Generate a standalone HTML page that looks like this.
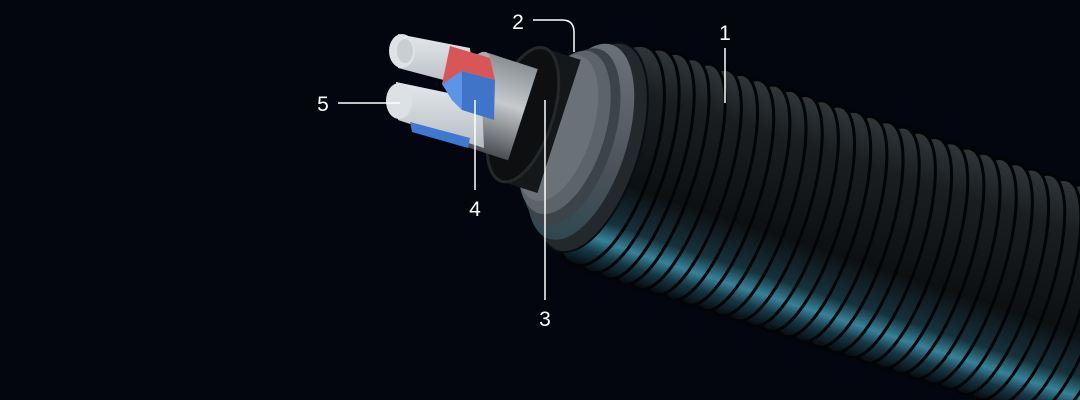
<!DOCTYPE html>
<html><head><meta charset="utf-8"><style>
html,body{margin:0;padding:0;background:#03060f;width:1080px;height:400px;overflow:hidden}
svg{display:block}
text{font-family:"Liberation Sans",sans-serif;font-size:21px;fill:#fff}
</style></head><body>
<svg width="1080" height="400" viewBox="0 0 1080 400" xmlns="http://www.w3.org/2000/svg">
<defs>
<linearGradient id="ring" x1="0" y1="0" x2="0" y2="1">
<stop offset="0" stop-color="#30363a"/>
<stop offset="0.2" stop-color="#1a1e21"/>
<stop offset="0.6" stop-color="#0d1013"/>
<stop offset="0.78" stop-color="#15323c"/>
<stop offset="0.86" stop-color="#368298"/>
<stop offset="0.92" stop-color="#163845"/>
<stop offset="1" stop-color="#05080c"/>
</linearGradient>
<linearGradient id="grey" x1="0" y1="0" x2="0" y2="1">
<stop offset="0" stop-color="#6a7178"/>
<stop offset="0.6" stop-color="#4a5158"/>
<stop offset="1" stop-color="#2e4850"/>
</linearGradient>
<linearGradient id="silver" x1="0" y1="0" x2="0" y2="1">
<stop offset="0" stop-color="#8a9094"/>
<stop offset="0.45" stop-color="#c6cacd"/>
<stop offset="1" stop-color="#4a4e52"/>
</linearGradient>
<linearGradient id="white" x1="0" y1="0" x2="0" y2="1">
<stop offset="0" stop-color="#e4e8ec"/>
<stop offset="1" stop-color="#b6bcc2"/>
</linearGradient>
</defs>
<rect width="1080" height="400" fill="#03060f"/>
<g transform="translate(562,140) rotate(18)">
  <g stroke="#020406" stroke-width="3" fill="url(#ring)">
    <ellipse cx="680" cy="0" rx="36" ry="118"/>
    <ellipse cx="663" cy="0" rx="36" ry="118"/>
    <ellipse cx="646" cy="0" rx="36" ry="118"/>
    <ellipse cx="629" cy="0" rx="36" ry="118"/>
    <ellipse cx="612" cy="0" rx="36" ry="118"/>
    <ellipse cx="595" cy="0" rx="36" ry="118"/>
    <ellipse cx="578" cy="0" rx="36" ry="118"/>
    <ellipse cx="561" cy="0" rx="36" ry="118"/>
    <ellipse cx="544" cy="0" rx="36" ry="118"/>
    <ellipse cx="527" cy="0" rx="36" ry="118"/>
    <ellipse cx="510" cy="0" rx="36" ry="118"/>
    <ellipse cx="493" cy="0" rx="36" ry="118"/>
    <ellipse cx="476" cy="0" rx="36" ry="118"/>
    <ellipse cx="459" cy="0" rx="36" ry="118"/>
    <ellipse cx="442" cy="0" rx="36" ry="118"/>
    <ellipse cx="425" cy="0" rx="36" ry="118"/>
    <ellipse cx="408" cy="0" rx="36" ry="118"/>
    <ellipse cx="391" cy="0" rx="36" ry="118"/>
    <ellipse cx="374" cy="0" rx="36" ry="118"/>
    <ellipse cx="357" cy="0" rx="36" ry="118"/>
    <ellipse cx="340" cy="0" rx="36" ry="118"/>
    <ellipse cx="323" cy="0" rx="36" ry="118"/>
    <ellipse cx="306" cy="0" rx="36" ry="118"/>
    <ellipse cx="289" cy="0" rx="36" ry="118"/>
    <ellipse cx="272" cy="0" rx="36" ry="118"/>
    <ellipse cx="255" cy="0" rx="36" ry="118"/>
    <ellipse cx="238" cy="0" rx="36" ry="118"/>
    <ellipse cx="221" cy="0" rx="36" ry="118"/>
    <ellipse cx="204" cy="0" rx="36" ry="118"/>
    <ellipse cx="187" cy="0" rx="36" ry="118"/>
    <ellipse cx="170" cy="0" rx="36" ry="118"/>
    <ellipse cx="153" cy="0" rx="36" ry="118"/>
    <ellipse cx="136" cy="0" rx="36" ry="118"/>
    <ellipse cx="119" cy="0" rx="36" ry="118"/>
    <ellipse cx="102" cy="0" rx="36" ry="118"/>
    <ellipse cx="85" cy="0" rx="38" ry="118"/>
    <ellipse cx="68" cy="0" rx="40" ry="117"/>
    <ellipse cx="50" cy="0" rx="44" ry="115"/>
  </g>
  <!-- stepped grey layer 2 -->
  <ellipse cx="30" cy="-2" rx="48" ry="109" fill="#22282c" stroke="#0a0d10" stroke-width="2"/>
  <ellipse cx="18" cy="-4" rx="46" ry="102" fill="url(#grey)"/>
  <ellipse cx="8" cy="-6" rx="42" ry="92" fill="#3c444a"/>
  <ellipse cx="0" cy="-8" rx="40" ry="85" fill="#5c646a"/>
  <ellipse cx="-8" cy="-10" rx="35" ry="76" fill="#6a7278"/>
  <!-- black collar (3) -->
  <rect x="-45" y="-82" width="38" height="140" fill="#15181b"/>
  <ellipse cx="-45" cy="-12" rx="30" ry="70" fill="#0d0f11" stroke="#24282b" stroke-width="3"/>
  <!-- silver cylinder -->
  <rect x="-100" y="-60" width="55" height="96" fill="url(#silver)"/>
  <ellipse cx="-100" cy="-12" rx="16" ry="48" fill="#a8adb1"/>
</g>
<!-- cores -->
<g>
  <path d="M398,34 L470,48 L474,88 L398,68 Z" fill="url(#white)"/>
  <ellipse cx="402" cy="51" rx="13" ry="17" fill="#dfe3e7"/>
  <ellipse cx="405" cy="51" rx="8" ry="12" fill="#c9ced3"/>
  <path d="M396,82 L482,100 L484,148 L398,120 Z" fill="url(#white)"/>
  <path d="M410,122 L470,138 L468,148 L412,132 Z" fill="#3f78d0"/>
  <ellipse cx="399" cy="101" rx="13" ry="18" fill="#dde1e5"/>
  <!-- red/blue block -->
  <path d="M450,46 L490,58 L495,80 L462,71 L442,84 Z" fill="#d95658"/>
  <path d="M442,84 L462,71 L495,80 L494,120 L462,110 L452,100 Z" fill="#3f74c8"/>
  <path d="M442,84 L462,71 L462,110 L452,100 Z" fill="#5a95e8"/>
</g>
<!-- leader lines -->
<g stroke="#fff" stroke-width="1.5" fill="none">
  <line x1="725" y1="48" x2="725" y2="103"/>
  <path d="M533,20 L562,20 Q574,20 574,32 L574,52"/>
  <line x1="545" y1="100" x2="545" y2="300"/>
  <line x1="475" y1="100" x2="475" y2="190"/>
  <line x1="338" y1="103" x2="400" y2="103"/>
</g>
<text x="725" y="40" text-anchor="middle">1</text>
<text x="518" y="29" text-anchor="middle">2</text>
<text x="545" y="326" text-anchor="middle">3</text>
<text x="475" y="216" text-anchor="middle">4</text>
<text x="323" y="111" text-anchor="middle">5</text>
</svg>
</body></html>
